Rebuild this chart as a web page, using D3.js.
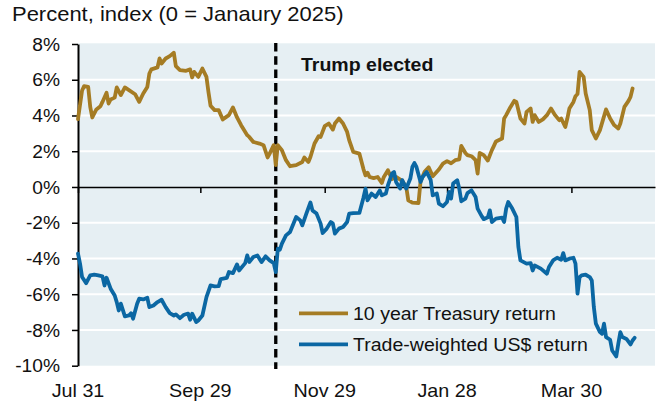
<!DOCTYPE html>
<html>
<head>
<meta charset="utf-8">
<script src="https://cdn.jsdelivr.net/npm/d3@7"></script>
<style>
  body { margin: 0; background: #fff; }
  text { font-family: "Liberation Sans", Arial, sans-serif; fill: #111; }
</style>
</head>
<body>
<svg id="chart" width="660" height="407"></svg>
<script>
// 10 year Treasury total return, percent index (0 = January 2025)
const treasury = [
  ["2024-07-31",3.8],["2024-08-02",5.4],["2024-08-03",5.64],["2024-08-05",5.6],["2024-08-06",4.48],
  ["2024-08-07",3.89],["2024-08-09",4.34],["2024-08-11",4.52],["2024-08-12",4.76],["2024-08-14",5.27],
  ["2024-08-15",4.67],["2024-08-16",4.9],["2024-08-18",5.0],["2024-08-19",5.57],["2024-08-21",5.14],
  ["2024-08-23",5.57],["2024-08-25",5.42],["2024-08-28",5.19],["2024-08-30",4.76],["2024-09-01",5.23],
  ["2024-09-03",5.6],["2024-09-04",6.35],["2024-09-05",6.58],["2024-09-08",6.69],["2024-09-09",7.19],
  ["2024-09-10",6.91],["2024-09-12",7.19],["2024-09-14",7.32],["2024-09-16",7.51],["2024-09-17",6.76],
  ["2024-09-19",6.54],["2024-09-22",6.5],["2024-09-24",6.58],["2024-09-25",6.13],["2024-09-26",6.44],
  ["2024-09-28",6.16],["2024-09-30",6.63],["2024-10-02",6.16],["2024-10-03",5.3],["2024-10-04",4.55],
  ["2024-10-06",4.3],["2024-10-08",4.3],["2024-10-10",3.78],["2024-10-13",4.02],["2024-10-15",4.45],
  ["2024-10-17",3.89],["2024-10-19",3.46],["2024-10-22",2.9],["2024-10-23",2.8],["2024-10-25",2.52],
  ["2024-10-28",2.43],["2024-10-30",2.34],["2024-11-01",1.65],["2024-11-02",1.87],["2024-11-04",2.34],
  ["2024-11-05",1.22],["2024-11-06",2.34],["2024-11-08",2.06],["2024-11-10",1.5],["2024-11-12",1.16],
  ["2024-11-15",1.22],["2024-11-18",1.4],["2024-11-19",1.65],["2024-11-21",1.4],["2024-11-22",1.68],
  ["2024-11-24",2.43],["2024-11-26",2.84],["2024-11-27",2.8],["2024-11-29",3.4],["2024-12-01",3.55],
  ["2024-12-03",3.21],["2024-12-04",3.55],["2024-12-06",3.83],["2024-12-08",3.55],["2024-12-10",3.08],
  ["2024-12-11",2.62],["2024-12-13",1.96],["2024-12-16",1.87],["2024-12-18",1.0],["2024-12-19",0.65],
  ["2024-12-20",0.8],["2024-12-21",0.56],["2024-12-23",0.5],["2024-12-25",0.56],["2024-12-27",0.22],
  ["2024-12-28",0.56],["2024-12-30",0.94],["2025-01-01",0.44],["2025-01-03",0.56],["2025-01-06",0.34],
  ["2025-01-08",0.0],["2025-01-09",-0.75],["2025-01-11",-0.88],["2025-01-14",-0.9],["2025-01-15",0.3],
  ["2025-01-17",0.85],["2025-01-18",0.98],["2025-01-19",1.1],["2025-01-21",0.6],["2025-01-24",0.98],
  ["2025-01-26",1.31],["2025-01-28",1.45],["2025-01-30",1.33],["2025-02-01",1.5],["2025-02-03",1.55],
  ["2025-02-04",2.3],["2025-02-06",1.9],["2025-02-07",1.78],["2025-02-09",1.72],["2025-02-11",1.5],
  ["2025-02-12",0.75],["2025-02-13",1.9],["2025-02-15",1.78],["2025-02-17",1.48],["2025-02-19",2.06],
  ["2025-02-20",2.3],["2025-02-21",2.55],["2025-02-24",2.71],["2025-02-25",3.83],["2025-02-26",4.02],
  ["2025-02-28",4.45],["2025-03-02",4.82],["2025-03-03",4.76],["2025-03-05",3.83],["2025-03-07",3.55],
  ["2025-03-08",4.2],["2025-03-10",4.39],["2025-03-11",3.64],["2025-03-12",4.02],["2025-03-14",3.64],
  ["2025-03-16",3.78],["2025-03-18",4.02],["2025-03-20",4.39],["2025-03-22",4.02],["2025-03-24",3.74],
  ["2025-03-25",3.83],["2025-03-27",3.36],["2025-03-28",3.83],["2025-03-29",4.39],["2025-03-31",4.76],
  ["2025-04-01",5.08],["2025-04-02",5.2],["2025-04-03",6.44],["2025-04-05",6.16],["2025-04-06",5.23],
  ["2025-04-08",4.3],["2025-04-09",3.18],["2025-04-11",2.71],["2025-04-13",3.18],["2025-04-16",4.34],
  ["2025-04-18",3.83],["2025-04-20",3.46],["2025-04-22",3.27],["2025-04-23",3.55],["2025-04-25",4.48],
  ["2025-04-27",4.82],["2025-04-28",5.04],["2025-04-29",5.51]
];

// Trade-weighted US$ return, percent index (0 = January 2025)
const dollar = [
  ["2024-07-31",-3.73],["2024-08-01",-4.29],["2024-08-02",-5.04],["2024-08-04",-5.38],["2024-08-06",-4.95],
  ["2024-08-08",-4.91],["2024-08-10",-4.95],["2024-08-12",-5.0],["2024-08-13",-5.51],["2024-08-14",-5.08],
  ["2024-08-16",-5.69],["2024-08-18",-6.07],["2024-08-19",-6.44],["2024-08-20",-6.91],["2024-08-21",-6.53],
  ["2024-08-23",-7.24],["2024-08-25",-7.19],["2024-08-26",-7.06],["2024-08-27",-7.37],["2024-08-29",-6.53],
  ["2024-08-30",-6.25],["2024-09-01",-6.29],["2024-09-03",-6.2],["2024-09-04",-6.72],["2024-09-06",-6.63],
  ["2024-09-08",-6.44],["2024-09-10",-6.31],["2024-09-12",-6.72],["2024-09-14",-7.06],["2024-09-16",-7.19],
  ["2024-09-17",-7.13],["2024-09-19",-7.34],["2024-09-21",-7.15],["2024-09-23",-7.09],["2024-09-24",-7.43],
  ["2024-09-25",-7.09],["2024-09-27",-7.56],["2024-09-28",-7.47],["2024-09-30",-7.19],["2024-10-02",-6.16],
  ["2024-10-04",-5.51],["2024-10-06",-5.56],["2024-10-08",-5.55],["2024-10-09",-5.15],["2024-10-12",-5.08],
  ["2024-10-13",-4.76],["2024-10-15",-4.82],["2024-10-17",-4.33],["2024-10-18",-4.67],["2024-10-21",-4.26],
  ["2024-10-22",-3.83],["2024-10-23",-4.2],["2024-10-25",-3.92],["2024-10-27",-3.83],["2024-10-29",-4.2],
  ["2024-10-31",-3.88],["2024-11-02",-4.11],["2024-11-04",-4.26],["2024-11-05",-4.76],["2024-11-06",-3.45],
  ["2024-11-07",-3.51],["2024-11-08",-3.17],["2024-11-10",-2.71],["2024-11-12",-2.52],["2024-11-14",-1.96],
  ["2024-11-15",-1.68],["2024-11-17",-1.87],["2024-11-18",-2.15],["2024-11-20",-1.49],["2024-11-22",-0.87],
  ["2024-11-23",-1.31],["2024-11-25",-1.49],["2024-11-27",-2.05],["2024-11-28",-2.58],["2024-11-30",-2.33],
  ["2024-12-02",-1.96],["2024-12-03",-2.05],["2024-12-04",-2.61],["2024-12-06",-2.33],["2024-12-08",-2.24],
  ["2024-12-10",-1.96],["2024-12-11",-1.49],["2024-12-13",-1.46],["2024-12-16",-1.45],["2024-12-18",-0.6],
  ["2024-12-19",-0.09],["2024-12-20",-0.75],["2024-12-22",-0.37],["2024-12-24",-0.56],["2024-12-26",-0.19],
  ["2024-12-27",-0.47],["2024-12-29",-0.37],["2024-12-30",0.09],["2025-01-01",0.75],["2025-01-02",0.84],
  ["2025-01-03",0.28],["2025-01-05",-0.09],["2025-01-06",0.38],["2025-01-08",-0.09],["2025-01-10",0.47],
  ["2025-01-11",1.12],["2025-01-12",1.34],["2025-01-13",1.12],["2025-01-15",0.28],["2025-01-16",0.56],
  ["2025-01-18",0.84],["2025-01-20",0.38],["2025-01-21",-0.47],["2025-01-23",-0.37],["2025-01-24",-0.93],
  ["2025-01-26",-1.08],["2025-01-28",-0.84],["2025-01-29",-0.28],["2025-01-30",-0.65],["2025-01-31",0.19],
  ["2025-02-02",0.38],["2025-02-03",-0.09],["2025-02-04",-0.8],["2025-02-06",-0.65],["2025-02-07",-0.34],
  ["2025-02-09",-0.19],["2025-02-11",-0.56],["2025-02-12",-1.21],["2025-02-14",-1.63],["2025-02-15",-1.8],
  ["2025-02-17",-1.7],["2025-02-18",-1.31],["2025-02-19",-1.96],["2025-02-21",-1.77],["2025-02-24",-1.72],
  ["2025-02-25",-1.96],["2025-02-26",-1.21],["2025-02-27",-0.84],["2025-03-01",-1.21],["2025-03-03",-1.68],
  ["2025-03-04",-3.36],["2025-03-05",-4.11],["2025-03-08",-4.29],["2025-03-10",-4.26],["2025-03-11",-4.67],
  ["2025-03-12",-4.39],["2025-03-15",-4.57],["2025-03-18",-4.85],["2025-03-19",-4.48],["2025-03-21",-4.11],
  ["2025-03-23",-3.96],["2025-03-25",-4.07],["2025-03-26",-3.7],["2025-03-27",-4.11],["2025-03-29",-4.01],
  ["2025-03-31",-3.96],["2025-04-01",-4.29],["2025-04-02",-5.97],["2025-04-03",-5.05],["2025-04-04",-4.95],
  ["2025-04-06",-4.91],["2025-04-08",-5.04],["2025-04-09",-5.23],["2025-04-10",-6.72],["2025-04-11",-7.65],
  ["2025-04-13",-8.12],["2025-04-14",-8.21],["2025-04-15",-7.65],["2025-04-16",-8.4],["2025-04-18",-8.55],
  ["2025-04-19",-9.15],["2025-04-21",-9.48],["2025-04-22",-8.77],["2025-04-23",-8.12],["2025-04-24",-8.4],
  ["2025-04-26",-8.5],["2025-04-28",-8.81],["2025-04-29",-8.59],["2025-04-30",-8.44]
];

const xDomain = ["2024-07-31", "2025-05-10"];
const xTickDates = ["2024-07-31", "2024-09-29", "2024-11-29", "2025-01-28", "2025-03-30"];
const xTickLabels = ["Jul 31", "Sep 29", "Nov 29", "Jan 28", "Mar 30"];
const yTicks = [8, 6, 4, 2, 0, -2, -4, -6, -8, -10];
const gridTicks = [6, 4, 2, -2, -4, -6, -8];
const electionDate = "2024-11-05";
const electionLabel = "Trump elected";
const subtitle = "Percent, index (0 = Janaury 2025)";
const seriesNames = ["10 year Treasury return", "Trade-weighted US$ return"];
const seriesColors = ["#a57c24", "#0b67a3"];

(function draw() {
  const parse = d3.utcParse("%Y-%m-%d");
  const svg = d3.select("#chart");

  const plotLeft = 78, plotRight = 655, plotTop = 44, plotBottom = 365.7;
  const x = d3.scaleUtc().domain(xDomain.map(parse)).range([plotLeft, plotRight]);
  const y = d3.scaleLinear().domain([-10, 8]).range([plotBottom, plotTop]);

  // text drawn slightly widened around its anchor point
  function wideText(parent, tx, ty, size, sx, str) {
    return parent.append("text")
      .attr("transform", `translate(${tx},${ty}) scale(${sx},1)`)
      .attr("font-size", size)
      .text(str);
  }

  // plot panel
  svg.append("rect")
    .attr("x", plotLeft).attr("y", plotTop - 0.7)
    .attr("width", plotRight - plotLeft).attr("height", plotBottom - plotTop + 0.7)
    .attr("fill", "#e6eff3");

  // horizontal gridlines
  svg.append("g").selectAll("line").data(gridTicks).join("line")
    .attr("x1", plotLeft).attr("x2", plotRight)
    .attr("y1", d => y(d)).attr("y2", d => y(d))
    .attr("stroke", "#fff").attr("stroke-width", 2);

  // subtitle
  wideText(svg, 12, 21, 19.8, 1.11, subtitle);

  // y axis
  const yAxis = svg.append("g")
    .attr("transform", `translate(${plotLeft},0)`)
    .call(d3.axisLeft(y).tickValues(yTicks).tickFormat(d => d + "%")
      .tickSize(6).tickSizeOuter(0).tickPadding(12));
  yAxis.select(".domain").attr("stroke", "#000").attr("stroke-width", 2);
  yAxis.selectAll(".tick line").attr("stroke", "#000").attr("stroke-width", 1.5);
  yAxis.selectAll(".tick text").attr("font-size", 19.2).attr("fill", "#111")
    .attr("font-family", '"Liberation Sans", Arial, sans-serif');

  // zero line with date ticks hanging below it
  const xAxis = svg.append("g")
    .attr("transform", `translate(0,${y(0)})`)
    .call(d3.axisBottom(x).tickValues(xTickDates.map(parse)).tickFormat("")
      .tickSize(6).tickSizeOuter(0));
  xAxis.select(".domain").attr("stroke", "#000").attr("stroke-width", 1.6);
  xAxis.selectAll(".tick line").attr("stroke", "#000").attr("stroke-width", 1.5);

  // date labels under the panel
  const dateLabels = svg.append("g");
  xTickDates.forEach((d, i) => {
    wideText(dateLabels, x(parse(d)), 397, 18.8, 1.05, xTickLabels[i])
      .attr("text-anchor", "middle");
  });

  // election marker
  svg.append("line")
    .attr("x1", x(parse(electionDate))).attr("x2", x(parse(electionDate)))
    .attr("y1", plotTop - 1).attr("y2", 369)
    .attr("stroke", "#000").attr("stroke-width", 3.3)
    .attr("stroke-dasharray", "8.5,4.8");
  wideText(svg, 301, 71, 17.6, 1.11, electionLabel)
    .attr("font-weight", "bold");

  // series lines
  const line = d3.line()
    .x(d => x(parse(d[0])))
    .y(d => y(d[1]));

  [treasury, dollar].forEach((series, i) => {
    svg.append("path")
      .datum(series)
      .attr("d", line)
      .attr("fill", "none")
      .attr("stroke", seriesColors[i])
      .attr("stroke-width", 3.8)
      .attr("stroke-linejoin", "round")
      .attr("stroke-linecap", "round");
  });

  // legend
  const legendY = [313.3, 344.3];
  const legend = svg.append("g");
  seriesNames.forEach((name, i) => {
    legend.append("line")
      .attr("x1", 299).attr("x2", 348)
      .attr("y1", legendY[i]).attr("y2", legendY[i])
      .attr("stroke", seriesColors[i]).attr("stroke-width", 3.8);
    wideText(legend, 353, legendY[i] + 6.8, 18.7, 1.045, name);
  });
})();
</script>
</body>
</html>
